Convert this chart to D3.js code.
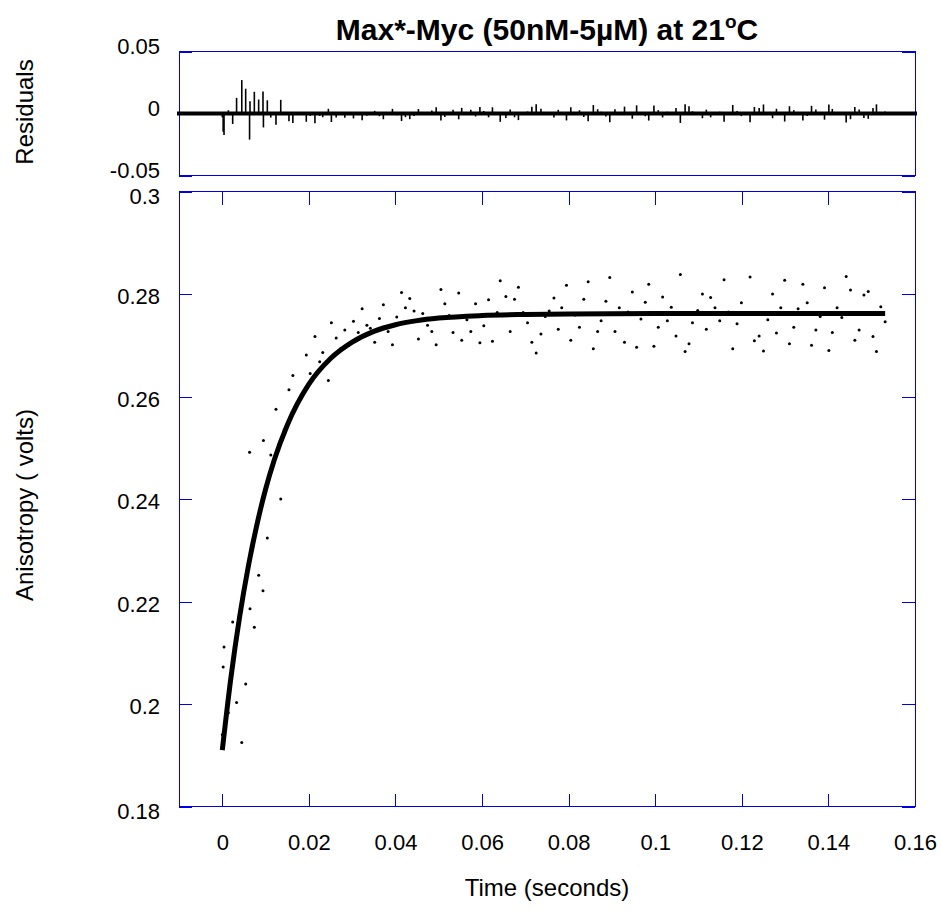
<!DOCTYPE html>
<html>
<head>
<meta charset="utf-8">
<script src="https://cdn.jsdelivr.net/npm/d3@7"></script>
<style>
  body { margin: 0; background: #fff; }
  text { font-family: "Liberation Sans", Arial, Helvetica, sans-serif; fill: #000; }
</style>
</head>
<body>
<script>
const timeSec = [
  0.0000, 0.0002, 0.0004, 0.0014, 0.0024, 0.0033, 0.0045, 0.0054, 0.0063, 0.0064,
  0.0074, 0.0084, 0.0094, 0.0095, 0.0104, 0.0112, 0.0124, 0.0135, 0.0143, 0.0154,
  0.0163, 0.0172, 0.0183, 0.0194, 0.0203, 0.0214, 0.0225, 0.0232, 0.0245, 0.0252,
  0.0263, 0.0273, 0.0283, 0.0292, 0.0303, 0.0314, 0.0323, 0.0334, 0.0342, 0.0352,
  0.0363, 0.0372, 0.0383, 0.0393, 0.0403, 0.0414, 0.0423, 0.0433, 0.0443, 0.0453,
  0.0463, 0.0474, 0.0484, 0.0494, 0.0505, 0.0514, 0.0524, 0.0533, 0.0546, 0.0553,
  0.0565, 0.0574, 0.0585, 0.0595, 0.0604, 0.0615, 0.0624, 0.0635, 0.0642, 0.0655,
  0.0665, 0.0675, 0.0684, 0.0695, 0.0705, 0.0715, 0.0725, 0.0736, 0.0746, 0.0755,
  0.0766, 0.0776, 0.0784, 0.0795, 0.0805, 0.0815, 0.0825, 0.0835, 0.0845, 0.0857,
  0.0867, 0.0875, 0.0886, 0.0895, 0.0907, 0.0917, 0.0929, 0.0937, 0.0947, 0.0957,
  0.0967, 0.0977, 0.0985, 0.0997, 0.1007, 0.1017, 0.1028, 0.1037, 0.1048, 0.1058,
  0.1069, 0.1078, 0.1086, 0.1098, 0.1109, 0.1118, 0.1128, 0.1138, 0.1149, 0.1159,
  0.1169, 0.1179, 0.1189, 0.1199, 0.1209, 0.1219, 0.1229, 0.1240, 0.1250, 0.1260,
  0.1271, 0.1280, 0.1290, 0.1299, 0.1310, 0.1320, 0.1330, 0.1341, 0.1351, 0.1361,
  0.1371, 0.1381, 0.1391, 0.1401, 0.1409, 0.1420, 0.1431, 0.1441, 0.1451, 0.1461,
  0.1471, 0.1482, 0.1492, 0.1503, 0.1511, 0.1521, 0.1531
];
const anisotropy = [
  0.1940, 0.2072, 0.2111, 0.1983, 0.2160, 0.2003, 0.1925, 0.2039, 0.2491, 0.2186,
  0.2150, 0.2251, 0.2221, 0.2514, 0.2324, 0.2486, 0.2575, 0.2400, 0.2535, 0.2613,
  0.2641, 0.2585, 0.2601, 0.2681, 0.2645, 0.2717, 0.2668, 0.2686, 0.2631, 0.2744,
  0.2714, 0.2693, 0.2730, 0.2700, 0.2747, 0.2725, 0.2771, 0.2739, 0.2733, 0.2706,
  0.2752, 0.2779, 0.2727, 0.2701, 0.2755, 0.2803, 0.2773, 0.2791, 0.2767, 0.2712,
  0.2762, 0.2739, 0.2727, 0.2701, 0.2809, 0.2781, 0.2758, 0.2725, 0.2802, 0.2710,
  0.2750, 0.2727, 0.2781, 0.2705, 0.2738, 0.2789, 0.2708, 0.2764, 0.2826, 0.2795,
  0.2727, 0.2790, 0.2813, 0.2764, 0.2744, 0.2706, 0.2685, 0.2722, 0.2756, 0.2767,
  0.2792, 0.2731, 0.2773, 0.2817, 0.2710, 0.2759, 0.2735, 0.2790, 0.2824, 0.2693,
  0.2727, 0.2748, 0.2786, 0.2832, 0.2727, 0.2773, 0.2706, 0.2765, 0.2804, 0.2696,
  0.2751, 0.2784, 0.2819, 0.2698, 0.2735, 0.2794, 0.2748, 0.2774, 0.2718, 0.2838,
  0.2688, 0.2703, 0.2744, 0.2768, 0.2800, 0.2731, 0.2793, 0.2773, 0.2748, 0.2828,
  0.2765, 0.2693, 0.2742, 0.2783, 0.2760, 0.2833, 0.2709, 0.2718, 0.2689, 0.2750,
  0.2800, 0.2724, 0.2773, 0.2827, 0.2703, 0.2735, 0.2771, 0.2819, 0.2783, 0.2700,
  0.2730, 0.2756, 0.2812, 0.2690, 0.2725, 0.2773, 0.2754, 0.2834, 0.2808, 0.2710,
  0.2730, 0.2798, 0.2805, 0.2717, 0.2688, 0.2775, 0.2746
];

// fitted curve, read at a few times along the thick line
const fitTime = [0, 0.002, 0.004, 0.006, 0.008, 0.010, 0.012, 0.015, 0.020, 0.025,
  0.030, 0.035, 0.040, 0.045, 0.050, 0.060, 0.070, 0.080, 0.100, 0.120, 0.140, 0.1531];
const fitValue = [0.1910, 0.2052, 0.2170, 0.2268, 0.2350, 0.2419, 0.2476, 0.2544, 0.2624, 0.2674,
  0.2706, 0.2727, 0.2740, 0.2748, 0.2753, 0.2758, 0.2760, 0.2761, 0.2762, 0.2762, 0.2762, 0.2762];

const xTicks = [0, 0.02, 0.04, 0.06, 0.08, 0.1, 0.12, 0.14, 0.16];
const yTicks = [0.18, 0.2, 0.22, 0.24, 0.26, 0.28, 0.3];
const resTicks = [-0.05, 0, 0.05];

const W = 941, H = 913;
const blue = "#0000e6";

var svg = d3.select("body")
    .append("svg")
    .attr("width", W)
    .attr("height", H);

let x = d3.scaleLinear().domain([-0.01, 0.16]).range([179, 915]);
let y = d3.scaleLinear().domain([0.18, 0.3]).range([806.5, 191.5]);
let yRes = d3.scaleLinear().domain([-0.05, 0.05]).range([175.5, 51.5]);

// fit value at any time (straight pieces between read points)
function fitAt(t) {
    let i = d3.bisectRight(fitTime, t);
    if (i <= 0) return fitValue[0];
    if (i >= fitTime.length) return fitValue[fitValue.length - 1];
    let t0 = fitTime[i - 1], t1 = fitTime[i];
    let f = (t - t0) / (t1 - t0);
    return fitValue[i - 1] + f * (fitValue[i] - fitValue[i - 1]);
}

// residuals as plotted: fit minus data
let points = timeSec.map((t, i) => ({ t: t, v: anisotropy[i], r: fitAt(t) - anisotropy[i] }));

// plain hyphen for negatives, like the original
let fmt = d => d3.format("~g")(d).replace("\u2212", "-");

function styleAxis(g) {
    g.select(".domain").remove();
    g.selectAll(".tick line").attr("stroke", blue).attr("shape-rendering", "crispEdges");
    g.selectAll(".tick text").attr("font-size", 22).attr("fill", "#000");
}

// ---- residual panel ----
let res = svg.append("g");

res.append("g")
    .attr("transform", `translate(${x.range()[0]},0)`)
    .call(d3.axisLeft(yRes).tickValues(resTicks).tickSize(-13).tickPadding(19).tickFormat(fmt))
    .call(styleAxis)
    .selectAll(".tick text").attr("dy", "0.11em");

res.append("g")
    .attr("transform", `translate(${x.range()[1]},0)`)
    .call(d3.axisRight(yRes).tickValues(resTicks).tickSize(-13).tickFormat(""))
    .call(styleAxis);

res.append("rect")
    .attr("x", x.range()[0]).attr("y", yRes.range()[1])
    .attr("width", x.range()[1] - x.range()[0])
    .attr("height", yRes.range()[0] - yRes.range()[1])
    .attr("fill", "none").attr("stroke", blue).attr("shape-rendering", "crispEdges");

res.selectAll("line.bar")
    .data(points)
    .enter().append("line")
    .attr("class", "bar")
    .attr("x1", d => x(d.t)).attr("x2", d => x(d.t))
    .attr("y1", yRes(0)).attr("y2", d => yRes(d.r))
    .attr("stroke", "#000").attr("stroke-width", 1.6);

res.append("line")
    .attr("x1", x.range()[0] - 2).attr("x2", x.range()[1] + 2)
    .attr("y1", yRes(0)).attr("y2", yRes(0))
    .attr("stroke", "#000").attr("stroke-width", 4);

// ---- main panel ----
let main = svg.append("g");

main.append("g")
    .attr("transform", `translate(0,${y.range()[0]})`)
    .call(d3.axisBottom(x).tickValues(xTicks).tickSize(-13).tickPadding(28).tickFormat(fmt))
    .call(styleAxis);

main.append("g")
    .attr("transform", `translate(0,${y.range()[1]})`)
    .call(d3.axisTop(x).tickValues(xTicks).tickSize(-13).tickFormat(""))
    .call(styleAxis);

main.append("g")
    .attr("transform", `translate(${x.range()[0]},0)`)
    .call(d3.axisLeft(y).tickValues(yTicks).tickSize(-13).tickPadding(19).tickFormat(fmt))
    .call(styleAxis)
    .selectAll(".tick text")
    .attr("dy", d => (d === 0.3 || d === 0.18) ? "0.55em" : "0.45em");

main.append("g")
    .attr("transform", `translate(${x.range()[1]},0)`)
    .call(d3.axisRight(y).tickValues(yTicks).tickSize(-13).tickFormat(""))
    .call(styleAxis);

main.append("rect")
    .attr("x", x.range()[0]).attr("y", y.range()[1])
    .attr("width", x.range()[1] - x.range()[0])
    .attr("height", y.range()[0] - y.range()[1])
    .attr("fill", "none").attr("stroke", blue).attr("shape-rendering", "crispEdges");

main.selectAll("circle")
    .data(points)
    .enter().append("circle")
    .attr("cx", d => x(d.t))
    .attr("cy", d => y(d.v))
    .attr("r", 1.5)
    .attr("fill", "#000");

let fitLine = d3.line()
    .x(d => x(d[0]))
    .y(d => y(d[1]))
    .curve(d3.curveMonotoneX);

main.append("path")
    .datum(fitTime.map((t, i) => [t, fitValue[i]]))
    .attr("d", fitLine)
    .attr("fill", "none")
    .attr("stroke", "#000")
    .attr("stroke-width", 5);

// ---- titles ----
let midX = (x.range()[0] + x.range()[1]) / 2;

let title = svg.append("text")
    .attr("x", midX).attr("y", 40)
    .attr("text-anchor", "middle")
    .attr("font-size", 30).attr("font-weight", "bold");
title.append("tspan").text("Max*-Myc (50nM-5µM) at 21");
title.append("tspan").attr("dy", -12).attr("font-size", 19).text("o");
title.append("tspan").attr("dy", 12).text("C");

svg.append("text")
    .attr("x", midX).attr("y", 896)
    .attr("text-anchor", "middle")
    .attr("font-size", 24)
    .text("Time (seconds)");

svg.append("text")
    .attr("transform", "translate(25,505) rotate(-90)")
    .attr("text-anchor", "middle").attr("dy", "0.35em")
    .attr("font-size", 24)
    .text("Anisotropy ( volts)");

svg.append("text")
    .attr("transform", "translate(25,112) rotate(-90)")
    .attr("text-anchor", "middle").attr("dy", "0.35em")
    .attr("font-size", 24)
    .text("Residuals");
</script>
</body>
</html>
